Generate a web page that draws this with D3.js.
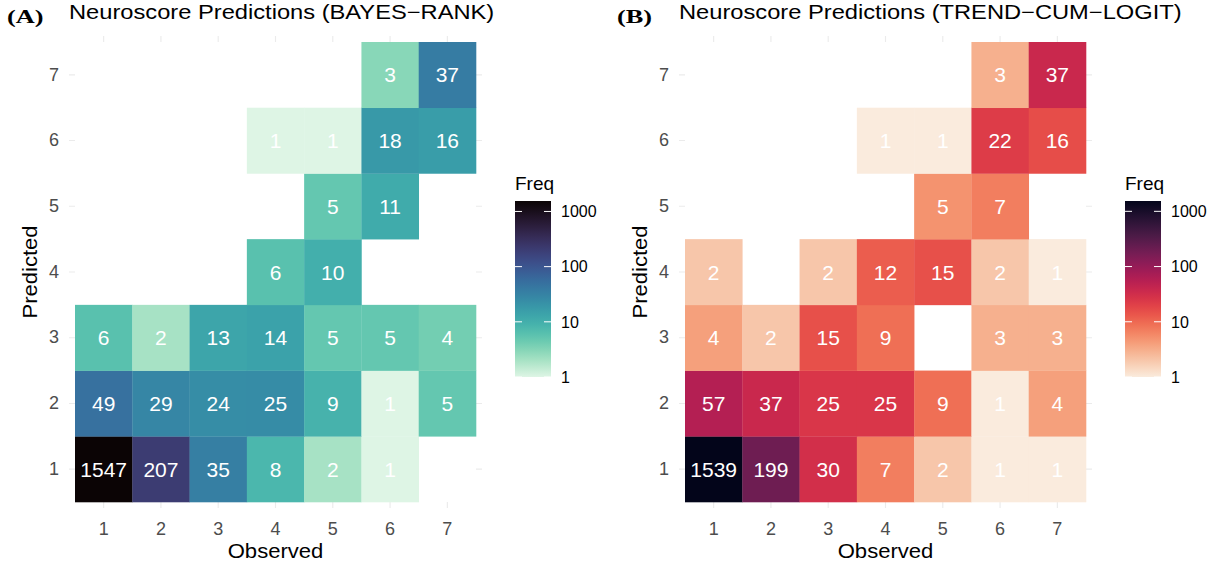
<!DOCTYPE html>
<html>
<head>
<meta charset="utf-8">
<script src="https://cdn.jsdelivr.net/npm/d3@7"></script>
<style>
  html, body { margin: 0; padding: 0; background: #fff; }
  svg text { font-family: "Liberation Sans", Arial, sans-serif; }
</style>
</head>
<body>
<svg id="chart" width="1228" height="567"></svg>
<script>
// Score categories (1..7) for both axes
const observed = [1, 2, 3, 4, 5, 6, 7];
const predicted = [1, 2, 3, 4, 5, 6, 7];

// Confusion counts, one array per predicted score (index = observed - 1); null = no cases
const bayesRank = {
  7: [null, null, null, null, null, 3, 37],
  6: [null, null, null, 1, 1, 18, 16],
  5: [null, null, null, null, 5, 11, null],
  4: [null, null, null, 6, 10, null, null],
  3: [6, 2, 13, 14, 5, 5, 4],
  2: [49, 29, 24, 25, 9, 1, 5],
  1: [1547, 207, 35, 8, 2, 1, null]
};
const trendCumLogit = {
  7: [null, null, null, null, null, 3, 37],
  6: [null, null, null, 1, 1, 22, 16],
  5: [null, null, null, null, 5, 7, null],
  4: [2, null, 2, 12, 15, 2, 1],
  3: [4, 2, 15, 9, null, 3, 3],
  2: [57, 37, 25, 25, 9, 1, 4],
  1: [1539, 199, 30, 7, 2, 1, 1]
};

const legendTicks = [1, 10, 100, 1000];

// Colour ramps (dark = high count)
const makoStops = ["#0B0405", "#2E1E3C", "#413D7B", "#37659E", "#348FA7", "#40B7AD", "#8AD9B1", "#DEF5E5"];
const rocketStops = ["#03051A", "#36193E", "#701F57", "#AE1759", "#E13342", "#F37651", "#F6B48E", "#FAEBDD"];

const panels = [
  { tag: "(A)", title: "Neuroscore Predictions (BAYES\u2212RANK)", data: bayesRank, stops: makoStops, dx: 0 },
  { tag: "(B)", title: "Neuroscore Predictions (TREND\u2212CUM\u2212LOGIT)", data: trendCumLogit, stops: rocketStops, dx: 610 }
];

const svg = d3.select("#chart");

function toCells(table) {
  const cells = [];
  predicted.forEach(p => {
    table[p].forEach((v, i) => {
      if (v !== null) cells.push({ obs: observed[i], pred: p, freq: v });
    });
  });
  return cells;
}

panels.forEach(panel => {
  const g = svg.append("g").attr("transform", `translate(${panel.dx},0)`);
  const cells = toCells(panel.data);
  const maxF = d3.max(cells, d => d.freq);
  const minF = d3.min(cells, d => d.freq);

  // tile area and expanded panel area
  const tileL = 75, tileR = 476, tileT = 42, tileB = 502;
  const pad = 6;

  const x = d3.scaleBand().domain(observed).range([tileL, tileR]).padding(0);
  const y = d3.scaleBand().domain(predicted.slice().reverse()).range([tileT, tileB]).padding(0);

  const ramp = d3.interpolateRgbBasis(panel.stops.slice().reverse());
  const logS = d3.scaleLog().domain([minF, maxF]).range([0, 1]);
  const color = v => ramp(logS(v));

  // grid lines (only their ends outside the tile block remain visible)
  const grid = g.append("g");
  observed.forEach(o => {
    grid.append("line")
      .attr("x1", x(o) + x.bandwidth() / 2).attr("x2", x(o) + x.bandwidth() / 2)
      .attr("y1", tileT - pad).attr("y2", tileB + pad)
      .attr("stroke", "#EBEBEB").attr("stroke-width", 1.1);
  });
  predicted.forEach(p => {
    grid.append("line")
      .attr("y1", y(p) + y.bandwidth() / 2).attr("y2", y(p) + y.bandwidth() / 2)
      .attr("x1", tileL - pad).attr("x2", tileR + pad)
      .attr("stroke", "#EBEBEB").attr("stroke-width", 1.1);
  });
  g.append("rect")
    .attr("x", tileL).attr("y", tileT)
    .attr("width", tileR - tileL).attr("height", tileB - tileT)
    .attr("fill", "#fff");

  // tiles
  g.selectAll("rect.tile").data(cells).enter().append("rect")
    .attr("class", "tile")
    .attr("x", d => x(d.obs)).attr("y", d => y(d.pred))
    .attr("width", x.bandwidth() + 0.3).attr("height", y.bandwidth() + 0.3)
    .attr("fill", d => color(d.freq));

  g.selectAll("text.val").data(cells).enter().append("text")
    .attr("class", "val")
    .attr("x", d => x(d.obs) + x.bandwidth() / 2)
    .attr("y", d => y(d.pred) + y.bandwidth() / 2)
    .attr("dy", "0.36em")
    .attr("text-anchor", "middle")
    .attr("fill", "#fff")
    .attr("font-size", 21)
    .text(d => d.freq);

  // axes
  const xAxis = g.append("g").attr("transform", `translate(0,${tileB + pad})`)
    .call(d3.axisBottom(x).tickSize(0).tickPadding(14));
  xAxis.select(".domain").remove();
  xAxis.selectAll("text").attr("fill", "#4D4D4D").attr("font-size", 18)
    .attr("font-family", "Liberation Sans, Arial, sans-serif");

  const yAxis = g.append("g").attr("transform", `translate(${tileL - pad},0)`)
    .call(d3.axisLeft(y).tickSize(0).tickPadding(10));
  yAxis.select(".domain").remove();
  yAxis.selectAll("text").attr("fill", "#4D4D4D").attr("font-size", 18)
    .attr("font-family", "Liberation Sans, Arial, sans-serif");

  g.append("text")
    .attr("transform", `translate(${(tileL + tileR) / 2},558) scale(1.05,1)`)
    .attr("text-anchor", "middle").attr("font-size", 21).attr("fill", "#000")
    .text("Observed");
  g.append("text")
    .attr("transform", `translate(37,${(tileT + tileB) / 2}) rotate(-90) scale(1.05,1)`)
    .attr("text-anchor", "middle").attr("font-size", 21).attr("fill", "#000")
    .text("Predicted");

  // titles
  g.append("text")
    .attr("transform", `translate(${tileL - pad},19) scale(1.185,1)`)
    .attr("font-size", 20).attr("fill", "#000")
    .text(panel.title);
  g.append("text")
    .attr("transform", "translate(7,23) scale(1.35,1)")
    .attr("font-size", 19.5).attr("font-weight", "bold")
    .style("font-family", "'Liberation Serif', 'Times New Roman', serif")
    .attr("fill", "#000")
    .text(panel.tag);

  // colour bar legend
  const barL = 515, barW = 36, barT = 201, barB = 377;
  const ly = d3.scaleLog().domain([minF, maxF]).range([barB, barT]);
  const gradId = "grad" + panel.dx;
  const grad = svg.append("defs").append("linearGradient")
    .attr("id", gradId).attr("x1", 0).attr("y1", 1).attr("x2", 0).attr("y2", 0);
  d3.range(0, 1.0001, 0.05).forEach(t => {
    grad.append("stop").attr("offset", t).attr("stop-color", ramp(t));
  });
  g.append("rect")
    .attr("x", barL).attr("y", barT).attr("width", barW).attr("height", barB - barT)
    .attr("fill", `url(#${gradId})`);
  const lg = g.append("g");
  legendTicks.forEach(t => {
    const ty = ly(t);
    lg.append("line").attr("x1", barL).attr("x2", barL + 7).attr("y1", ty).attr("y2", ty)
      .attr("stroke", "#fff").attr("stroke-width", 1);
    lg.append("line").attr("x1", barL + barW - 7).attr("x2", barL + barW).attr("y1", ty).attr("y2", ty)
      .attr("stroke", "#fff").attr("stroke-width", 1);
    lg.append("text").attr("x", barL + barW + 10).attr("y", ty).attr("dy", "0.36em")
      .attr("font-size", 16).attr("fill", "#000").text(t);
  });
  g.append("text")
    .attr("x", barL).attr("y", 190)
    .attr("font-size", 19).attr("fill", "#000")
    .text("Freq");
});
</script>
</body>
</html>
